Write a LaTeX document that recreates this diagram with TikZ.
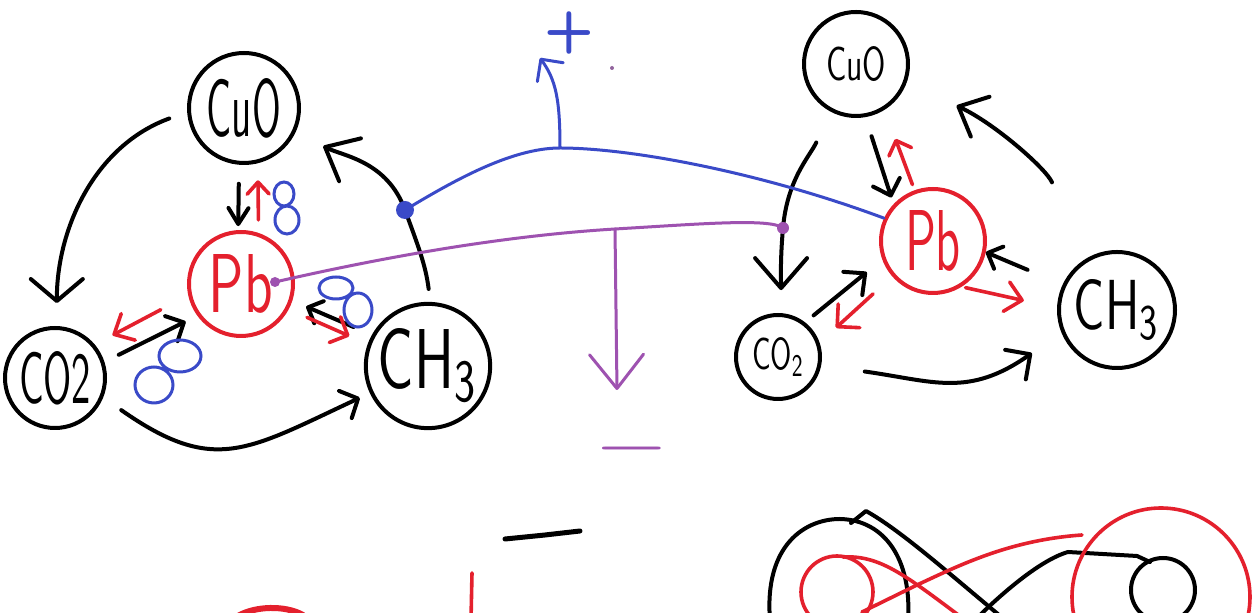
\documentclass[tikz,border=0pt]{standalone}
\usetikzlibrary{arrows.meta,calc}
\definecolor{penred}{RGB}{228,32,45}
\definecolor{penblue}{RGB}{58,74,200}
\definecolor{penpurple}{RGB}{158,82,176}
\newcommand{\handlabel}[3]{\resizebox{#1}{#2}{\sffamily #3}}
\tikzset{
  ink/.style={line width=2pt,line cap=round,line join=round},
  blk/.style={ink,draw=black},
  rd/.style={ink,draw=penred,line width=1.8pt},
  bl/.style={ink,draw=penblue,line width=1.5pt},
  pu/.style={ink,draw=penpurple,line width=1.5pt},
  hd/.style 2 args={-{Straight Barb[length=#1,width=#2,round]}},
  ring/.style={circle,draw=black,line width=2pt,inner sep=0pt},
  pbring/.style={ring,draw=penred,text=penred},
  orb/.style={draw=penblue,line width=1.5pt},
}
\begin{document}
\begin{tikzpicture}[x=0.5pt,y=-0.5pt]
\fill[white] (0,0) rectangle (1255,613);
\clip (0,0) rectangle (1255,613);

% ---------- left cycle ----------
\node[ring,minimum size=55pt]   (cuoL) at (244,108) {\handlabel{37pt}{29pt}{CuO}};
\node[pbring,minimum size=52pt] (pbL)  at (241,284) {\handlabel{32pt}{29pt}{Pb}};
\node[ring,minimum size=50pt]   (co2L) at (55,378)  {\handlabel{36pt}{26pt}{CO2}};
\node[ring,minimum size=58pt]   (ch3L) at (428,366) {\handlabel{50pt}{30pt}{CH\textsubscript{3}}};

\coordinate (junL) at (405,210);

\draw[blk,hd={11pt}{26pt},shorten <=9.5pt,shorten >=11.5pt]
  (cuoL.184) to[out=200,in=90] (co2L.88);
\draw[blk,hd={7pt}{15pt},shorten <=11pt,shorten >=5.5pt]
  (co2L.338) to[out=-35,in=205,looseness=1.3] (ch3L.205);
\draw[blk,hd={14pt}{24pt},shorten <=6.5pt,shorten >=15.5pt]
  (ch3L.88) to[out=97,in=-70] (junL) to[out=110,in=-27] (cuoL.335);
\draw[blk,hd={8pt}{10pt},shorten <=9.5pt,shorten >=2pt] (cuoL.265) -- (pbL.93);
\draw[rd,hd={6pt}{11pt},shorten <=6.5pt,shorten >=8.5pt] (pbL.71) -- (cuoL.284);
\draw[rd,hd={8pt}{15pt},shorten <=15.5pt,shorten >=10pt] (pbL.192.5) -- (co2L.40);
\draw[blk,hd={7pt}{14pt},shorten <=8pt,shorten >=6.5pt] (co2L.18.7) -- (pbL.216);
\draw[blk,hd={6pt}{12pt},shorten <=10pt,shorten >=7.5pt] (ch3L.151) -- (pbL.342);
\draw[rd,hd={7pt}{14pt},shorten <=10pt,shorten >=10pt] (pbL.332) -- (ch3L.160);

% p orbitals
\draw[orb] (284,194) ellipse[x radius=10,y radius=12] (287,220) ellipse[x radius=12,y radius=14];
\draw[orb] (336,288) ellipse[x radius=17,y radius=11] (358,310) ellipse[x radius=14,y radius=17];
\draw[orb] (180,356) ellipse[x radius=21,y radius=16] (154,385) ellipse[x radius=19,y radius=18];

% ---------- right cycle ----------
\node[ring,minimum size=52pt]   (cuoR) at (856,64)   {\handlabel{30pt}{17pt}{CuO}};
\node[pbring,minimum size=52pt] (pbR)  at (933,241)  {\handlabel{28pt}{30pt}{Pb}};
\node[ring,minimum size=42pt]   (co2R) at (778,357)  {\handlabel{26pt}{16pt}{CO\textsubscript{2}}};
\node[ring,minimum size=58pt]   (ch3R) at (1117,310) {\handlabel{43pt}{25pt}{CH\textsubscript{3}}};

\coordinate (junR) at (783,228);

\draw[blk,hd={15pt}{26pt},shorten <=17pt,shorten >=11.5pt]
  (cuoR.242) to[out=245,in=85] (junR) to[out=-95,in=90] (co2R.86);
\draw[blk,hd={7pt}{14pt},shorten <=10pt,shorten >=3.5pt] (cuoR.280) -- (pbR.137);
\draw[rd,hd={6pt}{12pt},shorten <=3pt,shorten >=15.5pt] (pbR.110) -- (cuoR.302);
\draw[blk,hd={12pt}{22pt},shorten <=42pt,shorten >=27.5pt]
  (ch3R.124) to[out=112,in=-25] (cuoR.340);
\draw[blk,hd={6pt}{12pt},shorten <=19pt] (ch3R.155) -- (pbR.348.5);
\draw[rd,hd={8pt}{15pt},shorten <=2pt,shorten >=17pt] (pbR.302.5) -- (ch3R.178);
\draw[rd,hd={8pt}{16pt},shorten <=13pt,shorten >=11pt] (pbR.221.5) -- (co2R.19);
\draw[blk,hd={8pt}{15pt},shorten <=5.5pt,shorten >=10pt] (co2R.52.7) -- (pbR.200);
\draw[blk,hd={9pt}{18pt},shorten <=22pt,shorten >=18pt]
  (co2R.349) to[out=-8,in=215,looseness=1.2] (ch3R.202);

% ---------- electrodes ----------
\coordinate (plusJ)   at (560,148);
\coordinate (plusTip) at (540,58);
\coordinate (minusJ)  at (615,229);
\coordinate (minusTip) at (617,390);
\coordinate (dotL) at ([shift={(34,-2)}]pbL.center);

\draw[bl] (junL) .. controls (450,183) and (510,148) .. (plusJ)
  .. controls (630,148) and (760,172) .. (pbR.155);
\draw[bl,hd={8pt}{16pt}] (plusJ) .. controls (560,100) and (556,80) .. (plusTip);
\fill[penblue] (junL) circle[radius=9];
\node[text=penblue,inner sep=0pt,font=\sffamily\bfseries\fontsize{29}{29}\selectfont] (plus) at (569,33) {+};

\draw[pu] (dotL) .. controls (380,258) and (500,236) .. (minusJ)
  .. controls (700,224) and (770,218) .. (junR);
\draw[pu,hd={17pt}{27pt}] (minusJ) -- (minusTip);
\fill[penpurple] (dotL) circle[radius=5];
\fill[penpurple] (junR) circle[radius=6];
\node[text=penpurple] (minus) at (632,449) {\scalebox{4.8}[3.6]{$-$}};
\fill[penpurple!60!gray] (612,68) circle[radius=2];

% ---------- lower sketches ----------
\draw[blk,line width=2.5pt] (505,539) -- (545,535) -- (580,531);
\draw[rd] (472,573) -- (471,620);
\draw[rd,line width=3pt] (238,616) .. controls (255,606) and (285,605) .. (303,615);

\draw[blk] (770,620) .. controls (764,545) and (805,519) .. (840,519)
  .. controls (885,520) and (912,560) .. (908,620);
\draw[blk] (851,523) -- (866,511) .. controls (900,530) and (945,570) .. (1005,620);
\draw[blk] (975,620) .. controls (1000,595) and (1040,560) .. (1068,552) -- (1137,556) -- (1150,562);
\draw[blk] (1163,590) circle[radius=32];
\draw[rd] (837,592) circle[radius=36];
\draw[rd] (843,557) .. controls (880,555) and (905,575) .. (965,620);
\draw[rd] (862,612) -- (917,585) .. controls (960,565) and (1010,540) .. (1082,535);
\draw[rd] (1161,597) circle[radius=89];
\end{tikzpicture}
\end{document}
